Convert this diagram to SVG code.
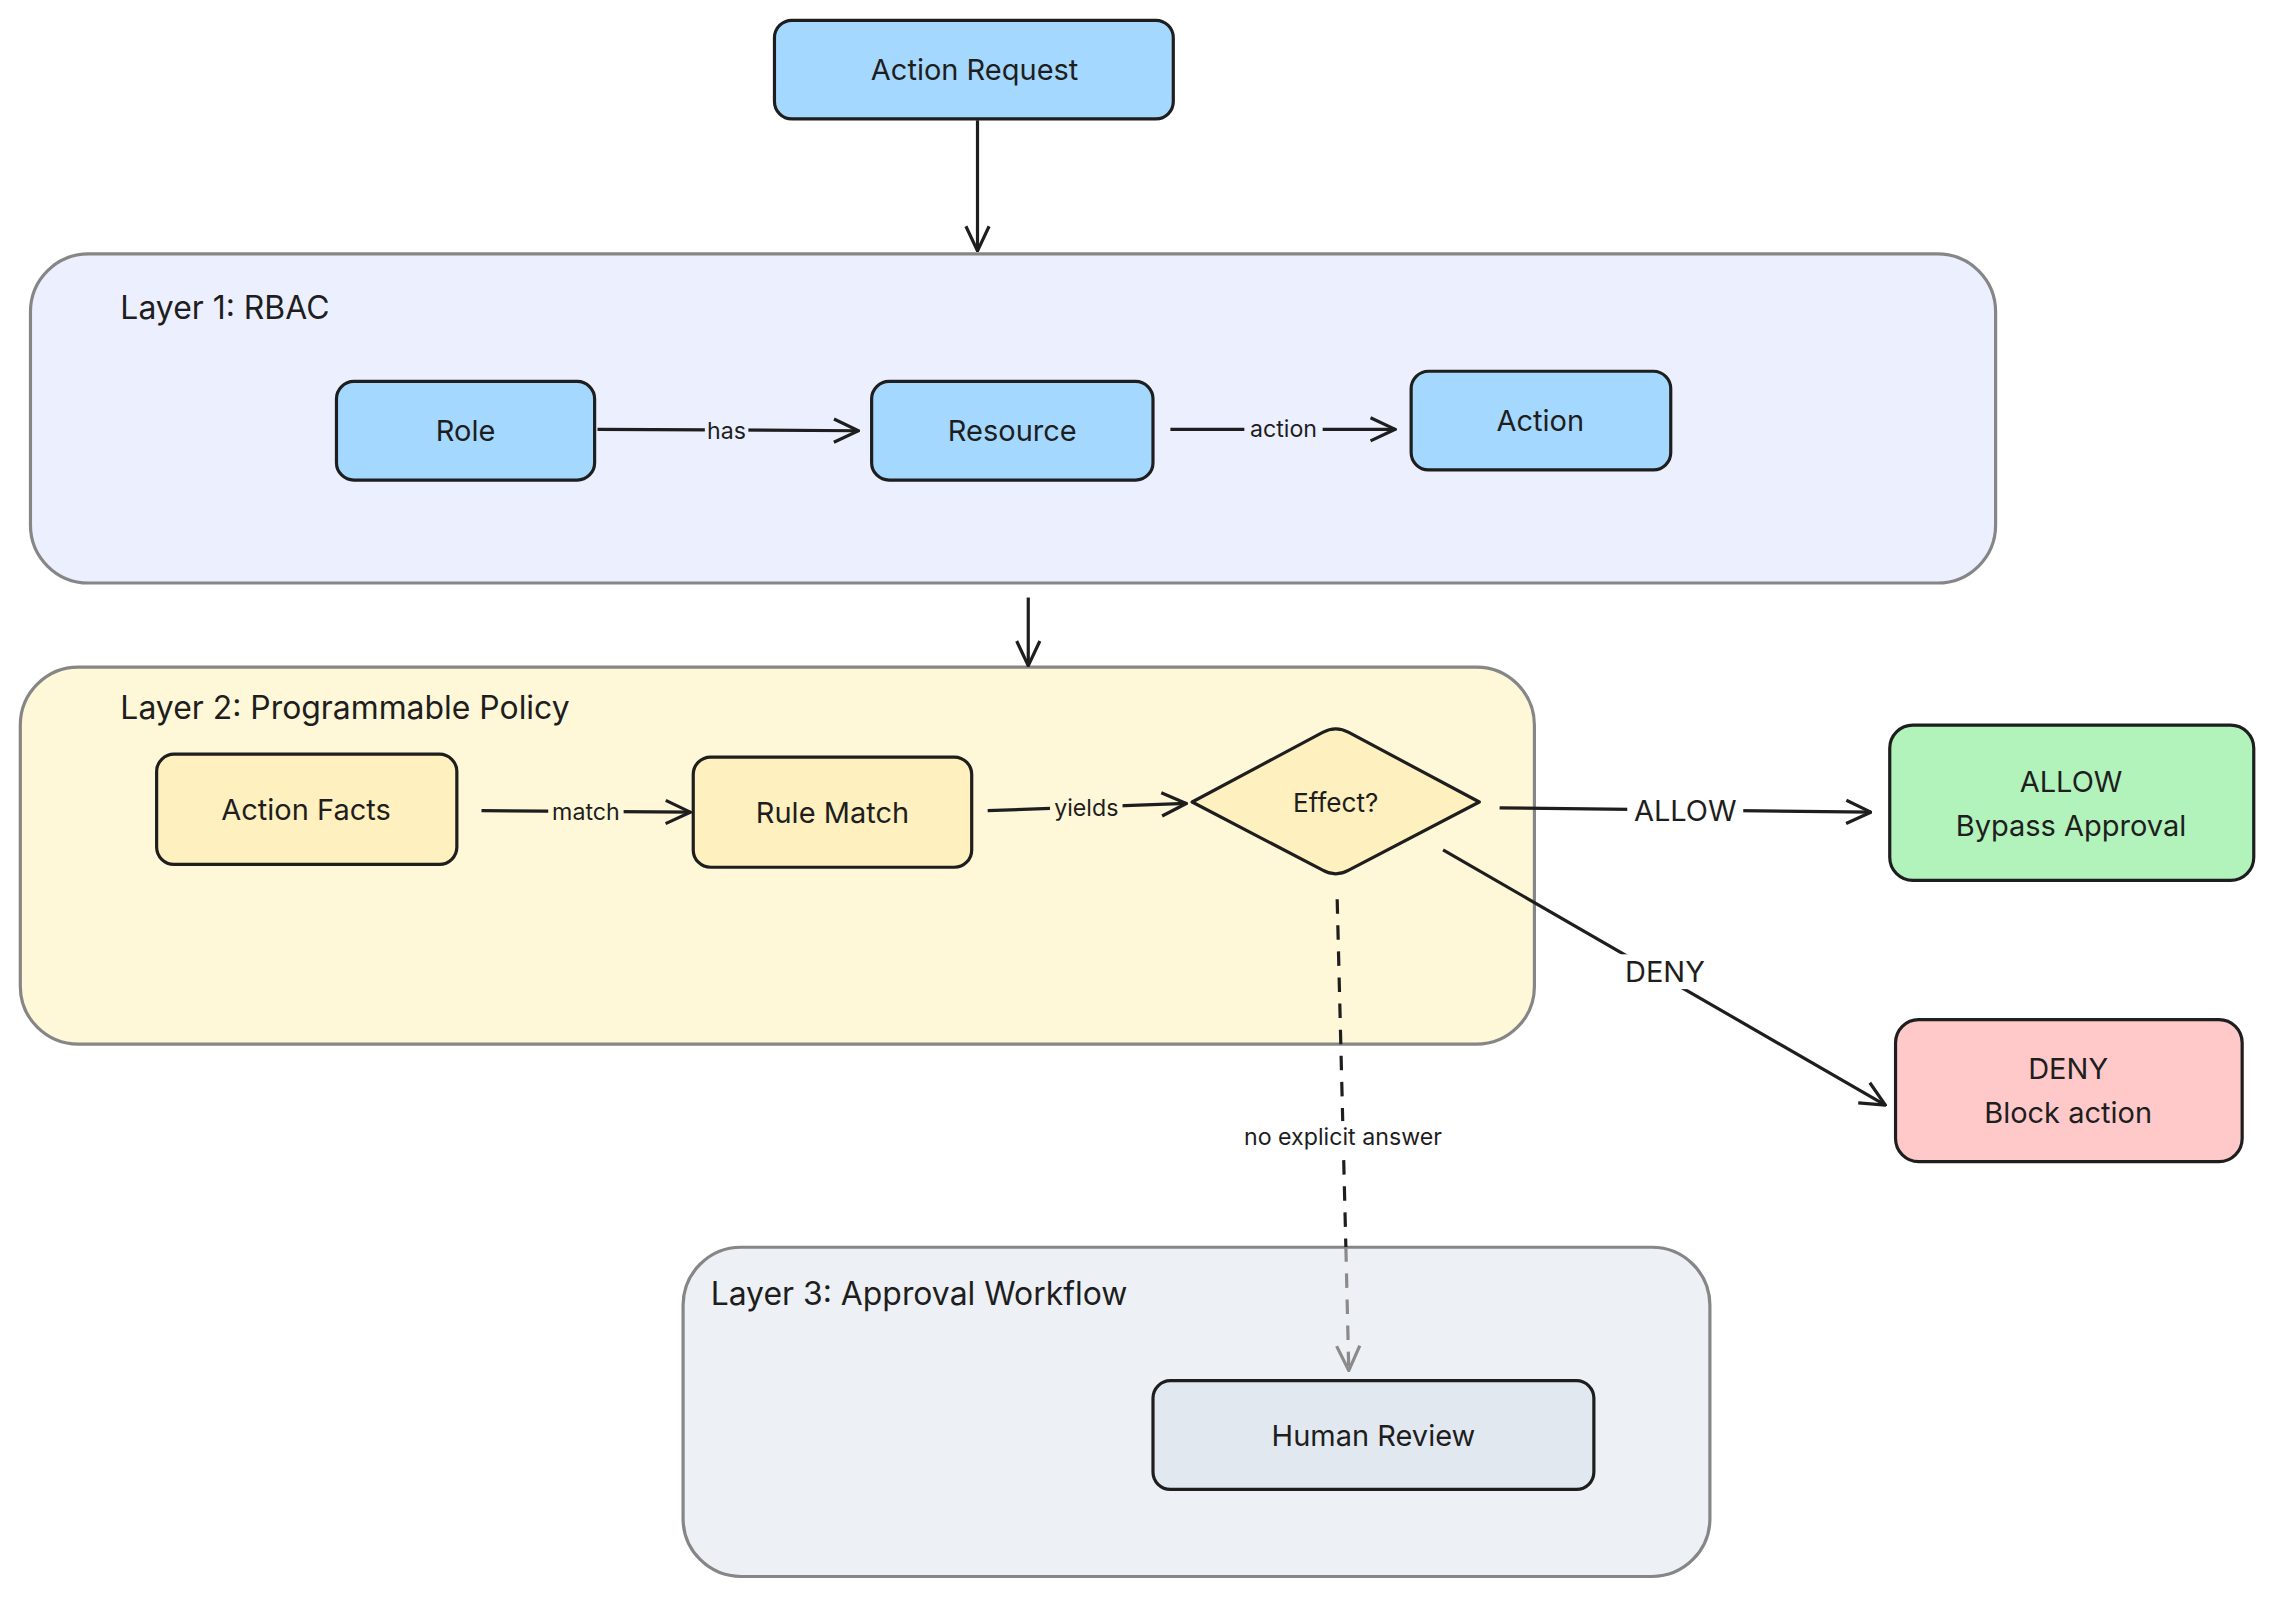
<svg xmlns="http://www.w3.org/2000/svg" width="2274" height="1598" viewBox="0 0 2274 1598">
<style>
text{font-family:Inter,"Noto Sans","Liberation Sans",sans-serif;fill:#1e1e1e}
.n{stroke:#1e1e1e;stroke-width:2.2}
.g{stroke:#868686;stroke-width:2.2}
.t{font-size:20px;text-anchor:middle;dominant-baseline:central}
.h{font-size:22px;dominant-baseline:central}
.e{font-size:16px;text-anchor:middle;dominant-baseline:central}
.c{fill:none;stroke:#1e1e1e;stroke-width:2.2}
</style>
<defs>
<marker id="a" viewBox="0 0 20 20" refX="19" refY="10" markerWidth="20" markerHeight="20" markerUnits="userSpaceOnUse" orient="auto"><path d="M2,2 L19,10 L2,18" fill="none" stroke="#1e1e1e" stroke-width="2.2"/></marker>
<marker id="ag" viewBox="0 0 20 20" refX="19" refY="10" markerWidth="20" markerHeight="20" markerUnits="userSpaceOnUse" orient="auto"><path d="M2,2 L19,10 L2,18" fill="none" stroke="#8a8a8a" stroke-width="2.2"/></marker>
</defs>
<rect width="2274" height="1598" fill="#fff"/>
<g transform="scale(1.4503)">
<g id="layer1"><rect class="g" x="21" y="175" width="1355" height="227" rx="40" fill="#ecf0fe"/><text class="h" x="83" y="212">Layer 1: RBAC</text></g>
<g id="layer2"><rect class="g" x="14" y="460" width="1044" height="260" rx="40" fill="#fef7d8"/><text class="h" x="83" y="488">Layer 2: Programmable Policy</text></g>
<g id="layer3"><rect class="g" x="471" y="860" width="708" height="227" rx="40" fill="#edf1f6"/><text class="h" x="490" y="892">Layer 3: Approval Workflow</text></g>
<g id="request"><rect class="n" x="534" y="14" width="275" height="68" rx="12" fill="#a5d8ff"/><text class="t" x="672" y="48">Action Request</text></g>
<g id="role"><rect class="n" x="232" y="263" width="178" height="68" rx="12" fill="#a5d8ff"/><text class="t" x="321" y="297">Role</text></g>
<g id="resource"><rect class="n" x="601" y="263" width="194" height="68" rx="12" fill="#a5d8ff"/><text class="t" x="698" y="297">Resource</text></g>
<g id="action"><rect class="n" x="973" y="256" width="179" height="68" rx="12" fill="#a5d8ff"/><text class="t" x="1062" y="290">Action</text></g>
<g id="facts"><rect class="n" x="108" y="520" width="207" height="76" rx="12" fill="#fff0bf"/><text class="t" x="211" y="558">Action Facts</text></g>
<g id="rule"><rect class="n" x="478" y="522" width="192" height="76" rx="12" fill="#fff0bf"/><text class="t" x="574" y="560">Rule Match</text></g>
<g id="effect"><path class="n" d="M822,553 L912,505 Q921,500 930,505 L1020,553 L930,600 Q921,605 912,600 Z" fill="#fff0bf" stroke-linejoin="round"/><text class="t" x="921" y="553" style="font-size:18px">Effect?</text></g>
<g id="allow"><rect class="n" x="1303" y="500" width="251" height="107" rx="16" fill="#b2f2bb"/><text class="t" x="1428" y="539">ALLOW</text><text class="t" x="1428" y="569">Bypass Approval</text></g>
<g id="deny"><rect class="n" x="1307" y="703" width="239" height="98" rx="16" fill="#ffc9c9"/><text class="t" x="1426" y="737">DENY</text><text class="t" x="1426" y="767">Block action</text></g>
<g id="review"><rect class="n" x="795" y="952" width="304" height="75" rx="12" fill="#e2e8f0"/><text class="t" x="947" y="990">Human Review</text></g>
<g id="connectors">
<path class="c" d="M674,83 L674,173" marker-end="url(#a)"/>
<path class="c" d="M709,412 L709,459" marker-end="url(#a)"/>
<path class="c" d="M412,296 L592,297" marker-end="url(#a)"/>
<rect x="486" y="287" width="30" height="20" fill="#ecf0fe"/><text class="e" x="501" y="297">has</text>
<path class="c" d="M807,296 L962,296" marker-end="url(#a)"/>
<rect x="858" y="286" width="54" height="20" fill="#ecf0fe"/><text class="e" x="885" y="296">action</text>
<path class="c" d="M332,559 L476,560" marker-end="url(#a)"/>
<rect x="378" y="550" width="52" height="20" fill="#fef7d8"/><text class="e" x="404" y="560">match</text>
<path class="c" d="M681,559 L818,554" marker-end="url(#a)"/>
<rect x="724" y="547" width="50" height="20" fill="#fef7d8"/><text class="e" x="749" y="557">yields</text>
<path class="c" d="M1034,557 L1290,560" marker-end="url(#a)"/>
<rect x="1122" y="547" width="80" height="24" fill="#fff"/><text class="t" x="1162" y="559">ALLOW</text>
<path class="c" d="M995,586 L1300,762" marker-end="url(#a)"/>
<rect x="1116" y="658" width="64" height="24" fill="#fff"/><text class="t" x="1148" y="670">DENY</text>
<path class="c" d="M922,620 L928,860" stroke-dasharray="10 8"/>
<path d="M928,860 L930,945" fill="none" stroke="#8a8a8a" stroke-width="2.2" stroke-dasharray="10 8" marker-end="url(#ag)"/>
<rect x="845" y="773" width="162" height="22" fill="#fff"/><text class="e" x="926" y="784">no explicit answer</text>
</g>
</g>
</svg>
